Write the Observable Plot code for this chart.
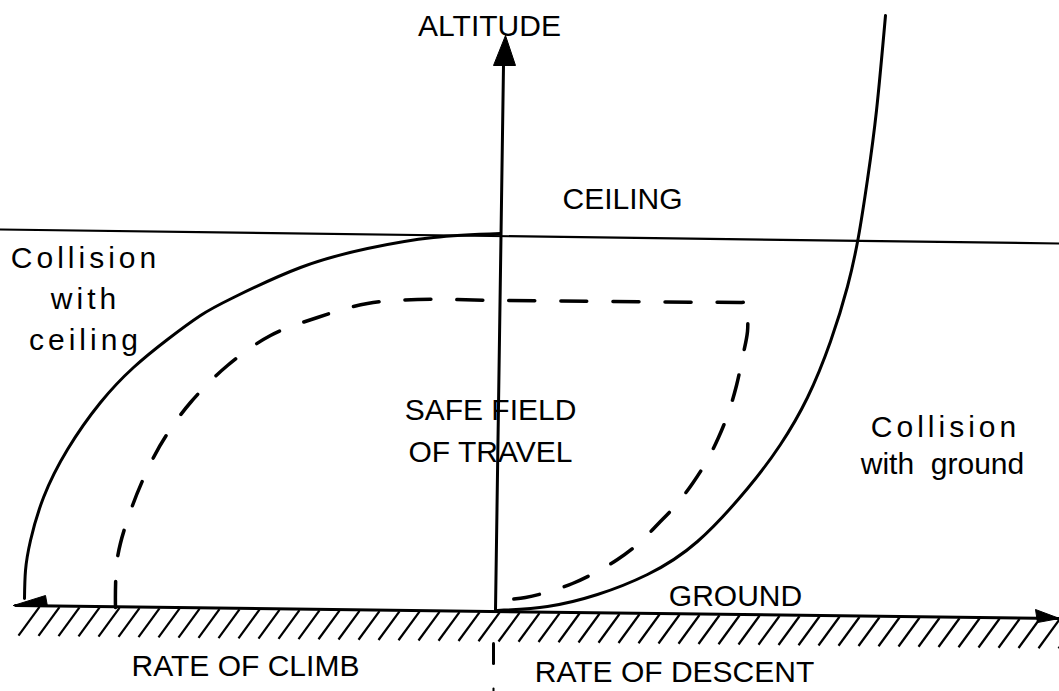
<!DOCTYPE html>
<html>
<head>
<meta charset="utf-8">
<script src="https://cdn.jsdelivr.net/npm/d3@7"></script>
<script src="https://cdn.jsdelivr.net/npm/@observablehq/plot@0.6"></script>
<style>
  html, body { margin: 0; padding: 0; background: #fff; }
  #chart svg { display: block; }
</style>
</head>
<body>
<div id="chart"></div>
<script>
// Coordinates: rate (negative = climb, positive = descent), altitude above ground.
const ceilingLine = [[-497, 378], [562, 364]];
const groundLine = [[-482, 2], [562, -11]];
const altitudeAxis = [[-2, -3], [6, 542]];
const altitudeArrow = [[8, 572], [-4, 542], [18, 542], [8, 572]];
const climbArrow = [[-484, 2], [-452, 12], [-450, 1], [-484, 2]];
const descentArrow = [[562, -11], [538, -2], [540, -15], [562, -11]];
const originTick = [[-4, -36], [-4, -56]];
const originDot = [[-4, -81], [-4, -84]];

// Solid boundary: collision with ceiling (climb side)
const ceilingBoundary = [
  [3, 374], [-64, 370], [-130, 359], [-197, 340], [-264, 310], [-297, 292],
  [-330, 268], [-364, 240], [-397, 205], [-430, 158], [-454, 110], [-467, 67],
  [-472, 37], [-473, 9]
];
// Solid boundary: collision with ground (descent side)
const groundBoundary = [
  [0, -3], [50, 1], [100, 13], [150, 33], [200, 66], [250, 119],
  [283, 163], [310, 210], [333, 266], [350, 321], [361, 371], [370, 428],
  [379, 497], [388, 592]
];
// Dashed safe field of travel
const safeField = [
  [-382, 0], [-380, 50], [-365, 102], [-344, 150], [-330, 174], [-307, 205],
  [-270, 242], [-227, 272], [-180, 290], [-130, 304], [-80, 308], [3, 307],
  [243, 305], [250, 305], [250, 297], [250, 276], [245, 250], [239, 222],
  [231, 195], [221, 170], [209, 146], [195, 124], [179, 103], [161, 84],
  [141, 64], [120, 48], [98, 35], [75, 24], [52, 16], [28, 10], [2, 7]
];

const capsLabels = [
  {text: "ALTITUDE", x: -8, y: 572, anchor: "middle"},
  {text: "CEILING", x: 125, y: 399, anchor: "middle"},
  {text: "SAFE FIELD", x: -7, y: 188, anchor: "end"},
  {text: "OF TRAVEL", x: -7, y: 146, anchor: "end"},
  {text: "GROUND", x: 238, y: 2, anchor: "middle"},
  {text: "RATE OF CLIMB", x: -252, y: -68, anchor: "middle"},
  {text: "RATE OF DESCENT", x: 177, y: -74, anchor: "middle"}
];
const wideLabels = [
  {text: "Collision", x: -412, y: 340, spacing: 4},
  {text: "with", x: -412, y: 299, spacing: 4},
  {text: "ceiling", x: -412, y: 258, spacing: 4},
  {text: "Collision", x: 448, y: 171, spacing: 1.5},
  {text: "with  ground", x: 445, y: 134, spacing: 0}
];

// ground hatching (texture)
const gAlt = r => 2 - 13 * (r + 482) / 1044;
const hatch = d3.range(-479, 562, 20).map(r => ({x1: r, y1: gAlt(r) - 30, x2: r + 21, y2: gAlt(r + 21) - 1}));

const chart = Plot.plot({
  width: 1059,
  height: 691,
  margin: 0,
  x: {domain: [-497, 562], axis: null},
  y: {domain: [-84, 607], axis: null},
  style: {background: "#fff", fontFamily: "Liberation Sans, Arial, sans-serif"},
  marks: [
    Plot.link(hatch, {x1: "x1", y1: "y1", x2: "x2", y2: "y2", stroke: "#000", strokeWidth: 2.2}),
    Plot.line(ceilingLine, {stroke: "#000", strokeWidth: 2.2}),
    Plot.line(groundLine, {stroke: "#000", strokeWidth: 3}),
    Plot.line(altitudeAxis, {stroke: "#000", strokeWidth: 3}),
    Plot.line(altitudeArrow, {stroke: "#000", fill: "#000", strokeWidth: 1}),
    Plot.line(climbArrow, {stroke: "#000", fill: "#000", strokeWidth: 1}),
    Plot.line(descentArrow, {stroke: "#000", fill: "#000", strokeWidth: 1}),
    Plot.line(originTick, {stroke: "#000", strokeWidth: 3}),
    Plot.line(originDot, {stroke: "#000", strokeWidth: 2}),
    Plot.line(ceilingBoundary, {stroke: "#000", strokeWidth: 3, curve: "natural"}),
    Plot.line(groundBoundary, {stroke: "#000", strokeWidth: 3, curve: "natural"}),
    Plot.line(safeField, {stroke: "#000", strokeWidth: 3.5, curve: "catmull-rom", strokeDasharray: "26,26"}),
    Plot.text(capsLabels, {x: "x", y: "y", text: "text", textAnchor: "anchor", lineAnchor: "bottom", fontSize: 30, fill: "#000"}),
    Plot.text(wideLabels, {x: "x", y: "y", text: "text", textAnchor: "middle", lineAnchor: "bottom", fontSize: 30, fill: "#000"})
  ]
});
// widen letter spacing of the lower-case labels as in the original lettering
d3.select(chart).selectAll("text").each(function() {
  const lab = wideLabels.find(l => l.text === this.textContent);
  if (lab) d3.select(this).style("letter-spacing", lab.spacing + "px").style("white-space", "pre");
});
document.getElementById("chart").appendChild(chart);
</script>
</body>
</html>
